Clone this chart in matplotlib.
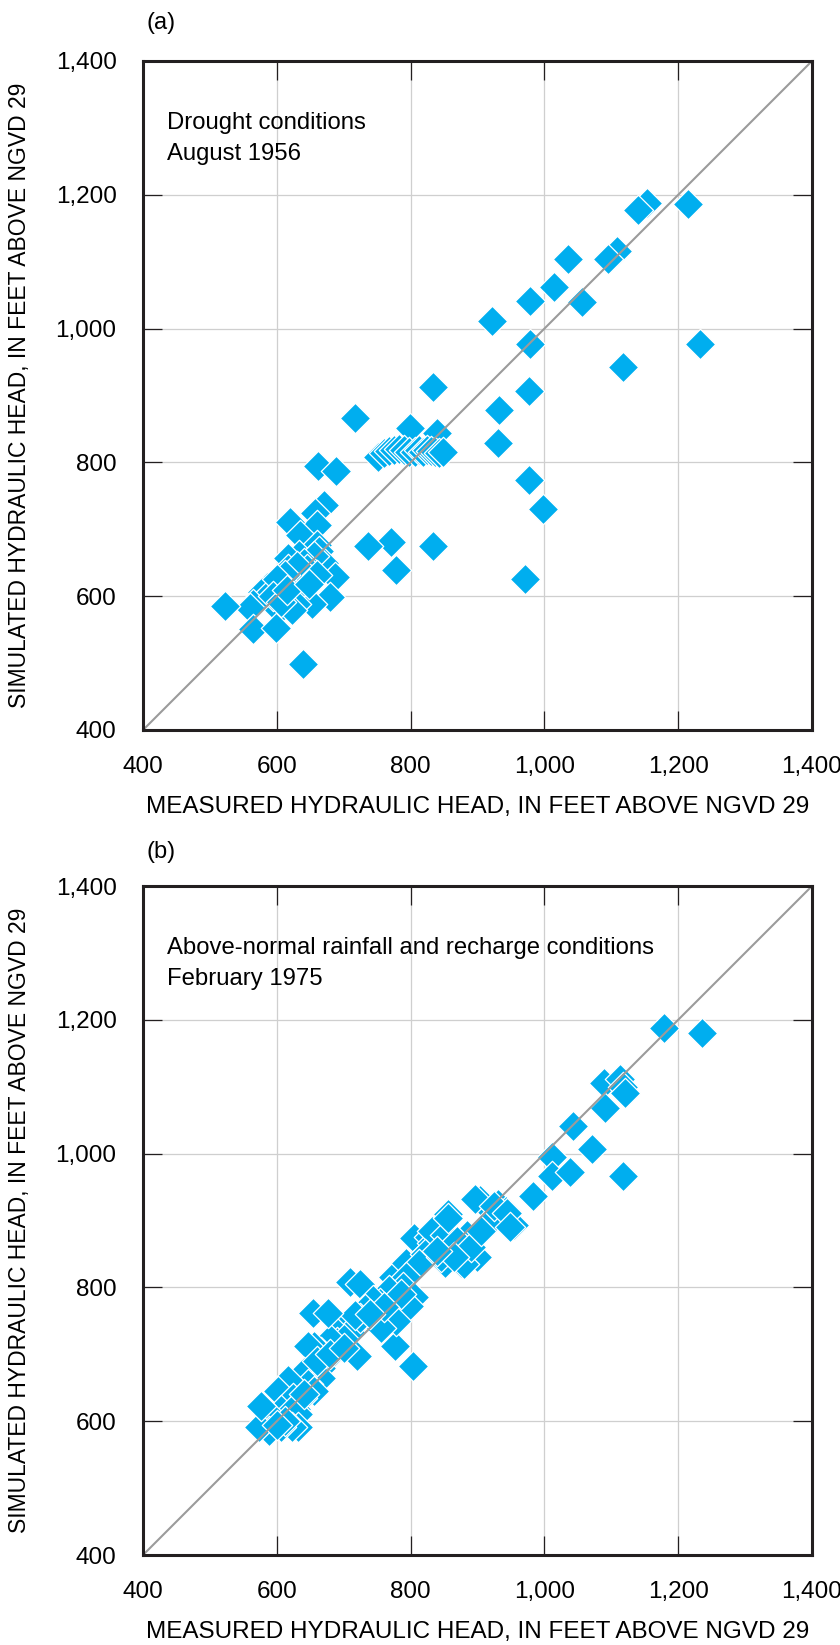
import matplotlib
matplotlib.use("Agg")
import matplotlib.pyplot as plt

# -----------------------------
# Data
# -----------------------------
# (a) Drought conditions, August 1956
measured_a = [
    1214, 1154, 1140, 1035, 1108, 1095, 1015, 978, 1056, 922,
    978, 1118, 1233, 977, 932, 930, 977, 998, 971, 834,
    834, 771, 737, 778, 717, 799, 840, 751,
    760, 768, 775, 782, 790, 798, 806, 812, 818, 824, 830, 836, 843, 849,
    661, 689, 671, 657, 660, 619, 635, 660, 633, 663,
    616, 654, 670, 646, 623, 616, 687, 599, 585, 578,
    589, 609, 639, 635, 679, 653, 628, 604, 623, 564,
    560, 522, 565, 599, 639, 655, 640, 645, 630, 612,
    600, 595, 606, 615, 660, 648,
]
simulated_a = [
    1186, 1188, 1178, 1104, 1116, 1104, 1062, 1041, 1040, 1012,
    977, 942, 977, 907, 879, 829, 773, 731, 626, 913,
    675, 681, 675, 639, 866, 851, 844, 808,
    814, 817, 819, 820, 818, 816, 816, 818, 816, 819, 817, 815, 814, 815,
    794, 787, 737, 725, 706, 711, 691, 677, 662, 667,
    657, 647, 650, 628, 623, 640, 628, 618, 614, 606,
    604, 599, 604, 616, 599, 589, 589, 580, 580, 589,
    582, 585, 551, 553, 498, 660, 650, 640, 645, 632,
    625, 600, 592, 610, 632, 618,
]

# (b) Above-normal rainfall and recharge conditions, February 1975
measured_b = [
    1179, 1235, 1089, 1113, 1118, 1121, 1091, 1043, 1071, 1011,
    1011, 1039, 1117, 983, 955, 903, 930, 942, 935, 920,
    897, 924, 944, 949,
    856, 846, 805, 827, 885, 866, 900, 876, 851, 817,
    832, 773, 710, 724, 793, 861, 832, 822, 812, 880,
    875, 885, 851, 856, 846, 870, 890, 905, 865, 840,
    804, 776,
    793, 788, 805, 797, 768, 754, 744, 732, 778, 756,
    700, 710, 688, 724, 717, 690, 700, 680, 720, 666,
    676, 654, 676, 656, 646, 651, 666, 641, 666, 646,
    656, 617, 602, 637, 624, 629, 607, 622, 632, 593,
    632, 622, 607, 588, 573, 576, 785, 760, 740, 660,
    640, 612, 600, 680, 700,
]
simulated_b = [
    1187, 1180, 1105, 1112, 1100, 1090, 1068, 1041, 1007, 995,
    966, 973, 966, 937, 894, 930, 924, 914, 905, 900,
    932, 921, 911, 891,
    909, 881, 874, 876, 876, 856, 846, 836, 836, 846,
    866, 815, 808, 805, 836, 864, 884, 850, 835, 835,
    859, 879, 879, 903, 845, 870, 860, 885, 845, 855,
    683, 712,
    815, 801, 786, 772, 796, 777, 781, 767, 750, 740,
    742, 733, 733, 755, 759, 718, 723, 723, 697, 703,
    694, 761, 762, 713, 713, 679, 679, 674, 664, 655,
    645, 662, 645, 635, 635, 618, 616, 616, 611, 606,
    591, 591, 591, 586, 591, 623, 790, 770, 760, 690,
    640, 600, 595, 700, 710,
]

tick_values = [400, 600, 800, 1000, 1200, 1400]
tick_labels = ["400", "600", "800", "1,000", "1,200", "1,400"]

panel_letters = ["(a)", "(b)"]
panel_notes = [
    "Drought conditions\nAugust 1956",
    "Above-normal rainfall and recharge conditions\nFebruary 1975",
]

x_label = "MEASURED HYDRAULIC HEAD, IN FEET ABOVE NGVD 29"
y_label = "SIMULATED HYDRAULIC HEAD, IN FEET ABOVE NGVD 29"

# -----------------------------
# Style
# -----------------------------
plt.rcParams["font.family"] = ["Liberation Sans", "DejaVu Sans"]

marker_color = "#00AEEF"
spine_color = "#231F20"
grid_color = "#CFCFCF"
line_color = "#9B9B9B"

fig = plt.figure(figsize=(8.4, 16.45), dpi=100)

ax_left = 143 / 840
ax_size_w = 669 / 840
ax_size_h = 669 / 1645
bottoms = [(1645 - 730) / 1645, (1645 - 1555) / 1645]
letter_y = [1 - 23 / 1645, 1 - 852 / 1645]

panels = [(measured_a, simulated_a), (measured_b, simulated_b)]

for i, (xs, ys) in enumerate(panels):
    ax = fig.add_axes([ax_left, bottoms[i], ax_size_w, ax_size_h])

    ax.set_xlim(400, 1400)
    ax.set_ylim(400, 1400)

    ax.set_xticks(tick_values)
    ax.set_xticklabels(tick_labels)
    ax.set_yticks(tick_values)
    ax.set_yticklabels(tick_labels)

    ax.grid(True, color=grid_color, linewidth=0.9, zorder=0)
    ax.set_axisbelow(True)

    # one-to-one line
    ax.plot([400, 1400], [400, 1400], color=line_color, linewidth=1.5, zorder=4)

    ax.scatter(xs, ys, marker="D", s=240, color=marker_color,
               edgecolors="white", linewidths=0.9, zorder=3)

    for side in ax.spines.values():
        side.set_linewidth(2.2)
        side.set_color(spine_color)
        side.set_zorder(5)

    ax.tick_params(direction="in", length=13.5, width=0.9, color=spine_color,
                   top=True, right=True, labelsize=17.5, pad=19)

    ax.set_xlabel(x_label, fontsize=17.5, va="top")
    ax.xaxis.set_label_coords(0.5, -0.098)
    ax.set_ylabel(y_label, fontsize=16.5)
    ax.yaxis.set_label_coords(-0.167, 0.5)

    ax.text(0.036, 0.924, panel_notes[i], transform=ax.transAxes,
            fontsize=17.2, va="top", ha="left", linespacing=1.55)

    fig.text(147 / 840, letter_y[i], panel_letters[i], fontsize=17,
             va="center", ha="left")

fig.savefig("out.png", dpi=100)
